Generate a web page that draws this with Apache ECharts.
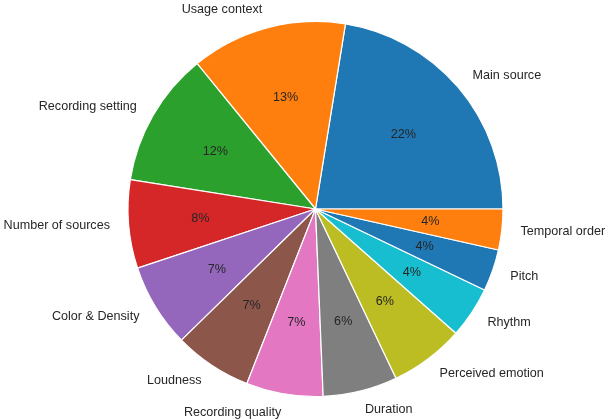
<!DOCTYPE html>
<html>
<head>
<meta charset="utf-8">
<script src="https://cdn.jsdelivr.net/npm/echarts@6/dist/echarts.min.js"></script>
<style>
html,body{margin:0;padding:0;background:#fff;}
#chart{width:608px;height:420px;}
</style>
</head>
<body>
<div id="chart"></div>
<script>
var categories = ["Main source","Usage context","Recording setting","Number of sources","Color & Density","Loudness","Recording quality","Duration","Perceived emotion","Rhythm","Pitch","Temporal order"];
var values = [22.4, 13.4, 11.6, 7.6, 7.2, 6.7, 6.6, 6.4, 6.4, 4.4, 3.6, 3.5];
var colors = ["#1f77b4","#ff7f0e","#2ca02c","#d62728","#9467bd","#8c564b","#e377c2","#7f7f7f","#bcbd22","#17becf","#1f77b4","#ff7f0e"];

var R = 187.5;
var CX = 315.5, CY = 209;
var FONT = "'Liberation Sans', Arial, Helvetica, sans-serif";

var data = categories.map(function(c, i){ return {name: c, value: values[i], itemStyle: {color: colors[i]}}; });

var chart = echarts.init(document.getElementById('chart'), null, {renderer: 'canvas'});
chart.setOption({
  animation: false,
  backgroundColor: '#fff',
  series: [
    {
      type: 'pie',
      center: [CX, CY],
      radius: [0, R],
      startAngle: 0,
      clockwise: false,
      avoidLabelOverlap: false,
      minAngle: 0,
      itemStyle: {borderColor: '#fff', borderWidth: 1.2},
      emphasis: {disabled: true},
      label: {
        show: true,
        position: 'outside',
        formatter: '{b}',
        color: '#262626',
        fontSize: 12.6,
        fontFamily: FONT,
        distanceToLabelLine: 0,
        alignTo: 'none'
      },
      labelLine: {show: false, length: R * 0.1, length2: 0},
      data: data
    },
    {
      type: 'pie',
      center: [CX, CY],
      radius: [0, R * 1.2],
      startAngle: 0,
      clockwise: false,
      silent: true,
      avoidLabelOverlap: false,
      itemStyle: {color: 'rgba(0,0,0,0)', borderWidth: 0},
      emphasis: {disabled: true},
      label: {
        show: true,
        position: 'inside',
        formatter: function(p){ return Math.round(p.percent) + '%'; },
        color: '#262626',
        fontSize: 12.6,
        fontFamily: FONT
      },
      labelLine: {show: false},
      data: categories.map(function(c, i){ return {name: c, value: values[i]}; })
    }
  ]
});
</script>
</body>
</html>
